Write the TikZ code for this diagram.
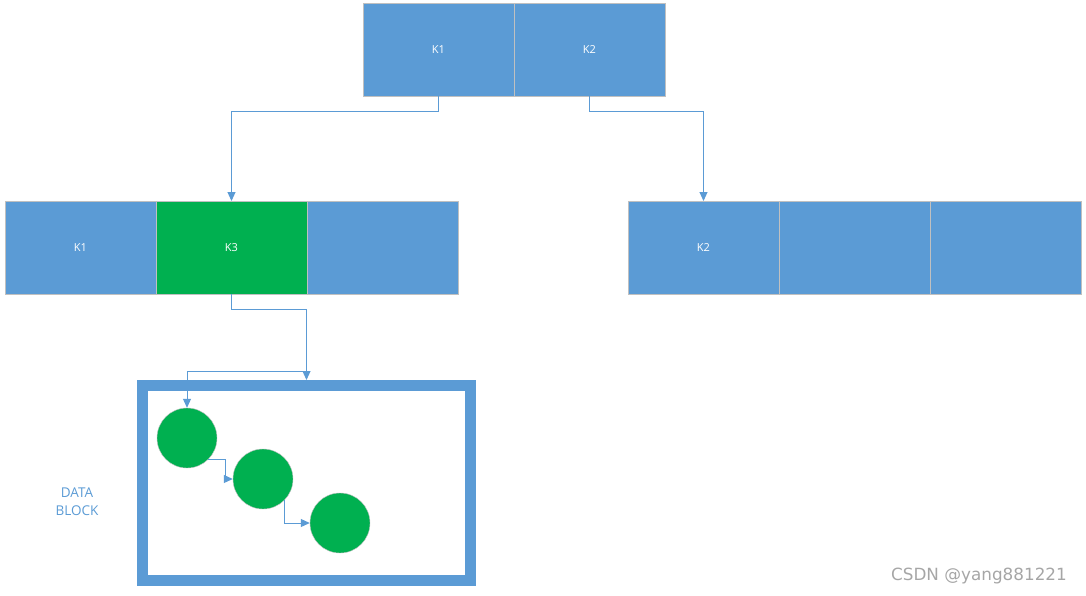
\documentclass[tikz,border=0pt]{standalone}
\usepackage{fontspec}
\setmainfont{Open Sans}
\newfontfamily\markfont{DejaVu Sans}
\usetikzlibrary{arrows.meta, positioning, calc}
\definecolor{keyblue}{HTML}{5B9BD5}
\definecolor{keygreen}{HTML}{00B050}
\definecolor{keyedge}{HTML}{C0C0C0}
\tikzstyle{keybox} = [rectangle, minimum width=151pt, minimum height=93pt, outer sep=0pt,
    draw=keyedge, line width=0.8pt, fill=keyblue, text=white, font=\fontsize{11}{13}\selectfont]
\tikzstyle{hitbox} = [keybox, fill=keygreen]
\tikzstyle{record} = [circle, minimum size=60pt, inner sep=0pt, fill=keygreen, draw=keyedge, line width=0.4pt]
\tikzstyle{block} = [rectangle, minimum width=328pt, minimum height=195pt, draw=keyblue, line width=11pt]
\tikzstyle{link} = [draw=keyblue, line width=1pt, -{Triangle[length=9pt,width=8pt]}]

\begin{document}
\begin{tikzpicture}[x=1pt, y=-1pt]
\useasboundingbox (0,0) rectangle (1086,595);
\node (root1) [keybox, anchor=north west] at (363,3) {K1};
\node (root2) [keybox, right=0pt of root1] {K2};
\node (left1) [keybox, anchor=north west] at (5,201) {K1};
\node (left3) [hitbox, right=0pt of left1] {K3};
\node (left4) [keybox, right=0pt of left3] {};
\node (right2) [keybox, anchor=north west] at (628,201) {K2};
\node (right3) [keybox, right=0pt of right2] {};
\node (right4) [keybox, right=0pt of right3] {};

% data block
\node (blk) [block] at (306.5,483) {};
\node (rec1) [record] at (187,438) {};
\node (rec2) [record] at (263,479) {};
\node (rec3) [record] at (340,523) {};
\node (blklbl) [text=keyblue, align=center, font=\fontsize{13.5}{18}\selectfont] at (77,502) {DATA\\BLOCK};
\coordinate (split) at ($(blk.north)+(0,-9)$);

\draw[link] (root1.south) -- ++(0,15) -| (left3.north);
\draw[link] (root2.south) -- ++(0,15) -| (right2.north);
\draw[link] (left3.south) -- ++(0,15) -| (blk.north);
\draw[link] (split) -| (rec1.north);
\draw[link] (rec1.-45) -- ++(17,0) |- (rec2.west);
\draw[link] (rec2.-45) |- (rec3.west);

\node (mark) [text=gray!70, font=\markfont\fontsize{16.8}{19}\selectfont] at (979,576) {CSDN @yang881221};
\end{tikzpicture}
\end{document}
